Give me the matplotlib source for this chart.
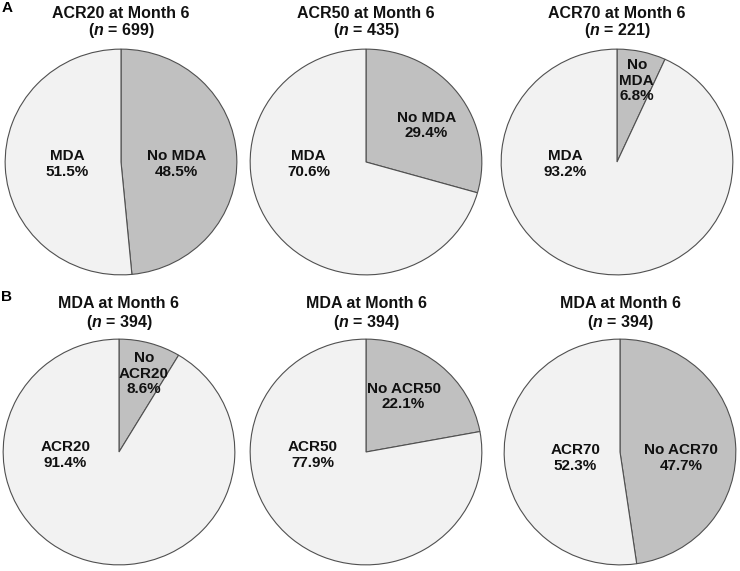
import matplotlib
matplotlib.use('Agg')
import matplotlib.pyplot as plt

plt.rcParams['font.family'] = 'Liberation Sans'
plt.rcParams['mathtext.fontset'] = 'custom'
plt.rcParams['mathtext.it'] = 'Liberation Sans:bold:italic'
plt.rcParams['mathtext.rm'] = 'Liberation Sans:bold'

# data: share without / with the response, in %
titles = ['ACR20 at Month 6', 'ACR50 at Month 6', 'ACR70 at Month 6',
          'MDA at Month 6', 'MDA at Month 6', 'MDA at Month 6']
n_values = [699, 435, 221, 394, 394, 394]
no_labels = ['No MDA', 'No MDA', 'No\nMDA', 'No\nACR20', 'No ACR50', 'No ACR70']
yes_labels = ['MDA', 'MDA', 'MDA', 'ACR20', 'ACR50', 'ACR70']
no_pct = [48.5, 29.4, 6.8, 8.6, 22.1, 47.7]
yes_pct = [51.5, 70.6, 93.2, 91.4, 77.9, 52.3]

# layout in pixels: pie centre, radii, label centres
W, H = 740, 571
centres = [(121, 162), (366, 162), (617, 162), (119, 452), (366, 452), (620, 452)]
rx, ry = 117, 114
no_pos = [(177, 164), (427, 125), (637, 80), (144, 373), (404, 396), (682, 458)]
yes_pos = [(67, 164), (308, 164), (565, 164), (65, 455), (312, 455), (575, 458)]

fig = plt.figure(figsize=(W / 100, H / 100), dpi=100)

for i in range(6):
    cx, cy = centres[i]
    ax = fig.add_axes([(cx - rx) / W, 1 - (cy + ry) / H, 2 * rx / W, 2 * ry / H])
    ax.pie([no_pct[i], yes_pct[i]], colors=['#c0c0c0', '#f2f2f2'], startangle=90,
           counterclock=False, radius=1,
           wedgeprops=dict(edgecolor='#505050', linewidth=0.8))
    ax.set_aspect('auto')
    ax.set_xlim(-1.01, 1.01)
    ax.set_ylim(-1.01, 1.01)
    for pos, lab, pct in [(no_pos[i], no_labels[i], no_pct[i]),
                          (yes_pos[i], yes_labels[i], yes_pct[i])]:
        x = (pos[0] - cx) / rx
        y = -(pos[1] - cy) / ry
        ax.text(x, y, lab + '\n' + str(pct) + '%', ha='center', va='center',
                fontsize=11, fontweight='bold', linespacing=1.15, color='#111111')
    ty = 13 if i < 3 else 304
    fig.text(cx / W, 1 - ty / H, titles[i], ha='center', va='center',
             fontsize=11.5, fontweight='bold', color='#111111')
    fig.text(cx / W, 1 - (ty + 18) / H, '($n$ = ' + str(n_values[i]) + ')',
             ha='center', va='center', fontsize=11.5, fontweight='bold', color='#111111')

fig.text(7 / W, 1 - 8 / H, 'A', ha='center', va='center', fontsize=11, fontweight='bold')
fig.text(7 / W, 1 - 297 / H, 'B', ha='center', va='center', fontsize=11, fontweight='bold')

fig.savefig('out.png', dpi=100)
